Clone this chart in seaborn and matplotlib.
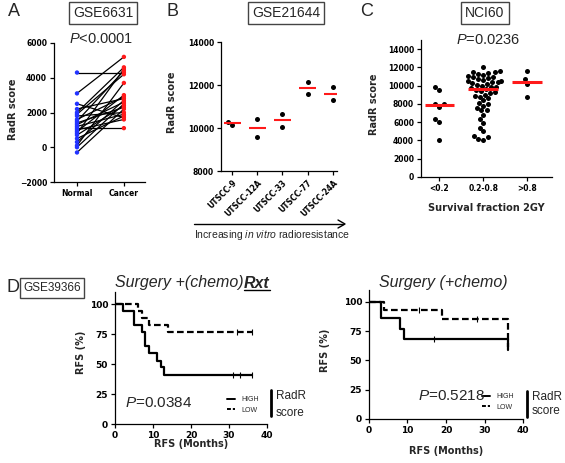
import numpy as np
import pandas as pd
import matplotlib
matplotlib.use("Agg")
import matplotlib.pyplot as plt
from matplotlib.lines import Line2D
import seaborn as sns

# ---------------------------------------------------------------
# data
# ---------------------------------------------------------------
# A: GSE6631, paired normal / cancer
A_GROUPS = ["Normal", "Cancer"]
A_NORMAL = [4300, 3100, 2500, 2200, 2000, 1800, 1600, 1500, 1400, 1300, 1200,
            1100, 900, 800, 700, 500, 300, 100, 0, -300, 1900, 1000]
A_CANCER = [4300, 5200, 1700, 2800, 4600, 2000, 2900, 4400, 2300, 2600, 1900,
            1100, 3000, 4500, 2400, 1800, 2700, 3700, 2500, 2200, 4200, 1600]

# B: GSE21644, two replicates per cell line
B_CELLS = ["UTSCC-9", "UTSCC-12A", "UTSCC-33", "UTSCC-77", "UTSCC-24A"]
B_REP1 = [10150, 10400, 10650, 12150, 11900]
B_REP2 = [10300, 9600, 10050, 11600, 11300]

# C: NCI60, survival fraction groups
C_GROUPS = ["<0.2", "0.2-0.8", ">0.8"]
C_LOW = [9800, 9500, 8000, 7700, 8000, 6300, 6000, 4100]
C_MID = [12000, 11600, 11500, 11500, 11400, 11300, 11200, 11100, 11000, 10900,
         10800, 10700, 10600, 10500, 10500, 10400, 10400, 10300, 10200, 10100,
         10000, 9900, 9800, 9700, 9600, 9500, 9400, 9300, 9200, 9000, 8900,
         8800, 8600, 8400, 8100, 8000, 7800, 7600, 7300, 7300, 6800, 6300,
         5900, 5400, 5000, 4500, 4400, 4200, 4100]
C_HIGH = [11600, 10700, 10200, 8800]

# D: GSE39366 Kaplan-Meier (months, RFS %)
D1_HIGH_T = [0, 2, 5, 7, 8, 9, 11, 12, 13, 36]
D1_HIGH_S = [100, 94.1, 82.4, 76.5, 64.7, 58.8, 52.9, 47.1, 41.2, 41.2]
D1_LOW_T = [0, 6, 7, 9, 14, 36]
D1_LOW_S = [100, 94.1, 88.2, 82.4, 76.5, 76.5]
D1_HIGH_CENS_T = [31, 33, 36]
D1_HIGH_CENS_S = [41.2, 41.2, 41.2]
D1_LOW_CENS_T = [32, 36]
D1_LOW_CENS_S = [76.5, 76.5]

D2_HIGH_T = [0, 3, 8, 9, 36, 36]
D2_HIGH_S = [100, 85.7, 77.0, 68.5, 68.5, 59.0]
D2_LOW_T = [0, 4, 19, 36, 36]
D2_LOW_S = [100, 92.9, 85.2, 85.2, 61.0]
D2_HIGH_CENS_T = [17]
D2_HIGH_CENS_S = [68.5]
D2_LOW_CENS_T = [13, 28]
D2_LOW_CENS_S = [92.9, 85.2]

# ---------------------------------------------------------------
sns.set_style("ticks")
plt.rcParams["font.family"] = ["Liberation Sans", "DejaVu Sans"]
plt.rcParams["mathtext.fontset"] = "custom"
plt.rcParams["mathtext.rm"] = "Liberation Sans"
plt.rcParams["mathtext.it"] = "Liberation Sans:italic"
plt.rcParams["mathtext.bf"] = "Liberation Sans:bold"

W, H = 565, 463
fig = plt.figure(figsize=(W / 100, H / 100), dpi=100)

LABEL_FONT = dict(fontsize=7, fontweight="bold", family="DejaVu Sans")


def px_axes(l, t, r, b):
    return fig.add_axes([l / W, 1 - b / H, (r - l) / W, (b - t) / H])


def fx(x):
    return x / W


def fy(y):
    return 1 - y / H


def style_ax(ax, labelsize=5.5):
    sns.despine(ax=ax)
    for s in ["left", "bottom"]:
        ax.spines[s].set_linewidth(0.9)
        ax.spines[s].set_color("black")
    ax.tick_params(direction="out", length=3, width=0.9, labelsize=labelsize,
                   colors="black", pad=2)
    for lbl in ax.get_xticklabels() + ax.get_yticklabels():
        lbl.set_fontweight("bold")
        lbl.set_family("DejaVu Sans")
    ax.set_facecolor("none")


def box_label(x, y, s, size=10):
    fig.text(fx(x), fy(y), s, ha="center", va="center", fontsize=size,
             bbox=dict(boxstyle="square,pad=0.3", fc="white", ec="#444444", lw=1))


def median_lines(ax, df, x, y, order, width, lw):
    # only the median bar is kept, drawn over the points
    sns.boxplot(data=df, x=x, y=y, order=order, ax=ax, width=width,
                showbox=False, showcaps=False, showfliers=False,
                whiskerprops={"visible": False},
                medianprops={"color": "#ff1a1a", "lw": lw}, zorder=4)


# ---------------- Panel A ----------------
axA = px_axes(54, 43, 145, 182)
n = len(A_NORMAL)
dfA = pd.DataFrame({
    "pair": list(range(n)) * 2,
    "pos": [0] * n + [1] * n,
    "group": [A_GROUPS[0]] * n + [A_GROUPS[1]] * n,
    "value": A_NORMAL + A_CANCER,
})
sns.lineplot(data=dfA, x="pos", y="value", units="pair", estimator=None,
             color="black", lw=0.9, ax=axA, zorder=2)
sns.scatterplot(data=dfA, x="pos", y="value", hue="group",
                palette={"Normal": "#2233ff", "Cancer": "#ff1a1a"},
                s=10, edgecolor="none", legend=False, ax=axA, zorder=3)
axA.set_xlim(-0.49, 1.45)
axA.set_ylim(-2000, 6000)
axA.set_xticks([0, 1])
axA.set_xticklabels(A_GROUPS)
axA.set_yticks([-2000, 0, 2000, 4000, 6000])
axA.set_xlabel("")
axA.set_ylabel("RadR score", **LABEL_FONT)
style_ax(axA)
axA.yaxis.set_label_coords(-0.40, 0.52)

# ---------------- Panel B ----------------
axB = px_axes(221, 42, 337, 171)
dfB = pd.DataFrame({
    "cell": B_CELLS * 2,
    "value": B_REP1 + B_REP2,
})
sns.swarmplot(data=dfB, x="cell", y="value", order=B_CELLS, color="black",
              size=3.6, ax=axB, zorder=3)
median_lines(axB, dfB, "cell", "value", B_CELLS, 0.68, 1.5)
axB.set_xlim(-0.44, 4.17)
axB.set_ylim(8000, 14000)
axB.set_yticks([8000, 10000, 12000, 14000])
axB.set_xlabel("")
axB.set_ylabel("RadR score", **LABEL_FONT)
style_ax(axB, labelsize=5.5)
for lbl in axB.get_xticklabels():
    lbl.set_rotation(45)
    lbl.set_ha("right")
    lbl.set_rotation_mode("anchor")
axB.yaxis.set_label_coords(-0.38, 0.53)

# ---------------- Panel C ----------------
axC = px_axes(421, 40, 552, 177)
dfC = pd.DataFrame({
    "grp": [C_GROUPS[0]] * len(C_LOW) + [C_GROUPS[1]] * len(C_MID)
           + [C_GROUPS[2]] * len(C_HIGH),
    "value": C_LOW + C_MID + C_HIGH,
})
sns.swarmplot(data=dfC, x="grp", y="value", order=C_GROUPS, color="black",
              size=3.6, ax=axC, zorder=3)
median_lines(axC, dfC, "grp", "value", C_GROUPS, 0.68, 2.2)
axC.set_xlim(-0.42, 2.56)
axC.set_ylim(0, 15000)
axC.set_yticks(np.arange(0, 14001, 2000))
axC.set_xlabel("Survival fraction 2GY", **LABEL_FONT)
axC.set_ylabel("RadR score", **LABEL_FONT)
style_ax(axC)
axC.yaxis.set_label_coords(-0.32, 0.53)
axC.xaxis.set_label_coords(0.5, -0.19)

# ---------------- Panel D ----------------
def km_panel(ax, ht, hs, lt, ls, hct, hcs, lct, lcs):
    sns.lineplot(x=ht, y=hs, drawstyle="steps-post", color="black", lw=1.6,
                 estimator=None, sort=False, ax=ax)
    sns.lineplot(x=lt, y=ls, drawstyle="steps-post", color="black", lw=1.6,
                 estimator=None, sort=False, ax=ax, linestyle=(0, (3, 1.5)))
    sns.scatterplot(x=hct, y=hcs, marker="|", s=14, color="black",
                    linewidth=0.8, ax=ax)
    sns.scatterplot(x=lct, y=lcs, marker="|", s=14, color="black",
                    linewidth=0.8, ax=ax)
    ax.set_xlim(0, 40)
    ax.set_ylim(0, 110)
    ax.set_xticks([0, 10, 20, 30, 40])
    ax.set_yticks([0, 25, 50, 75, 100])
    ax.set_xlabel("RFS (Months)", **LABEL_FONT)
    ax.set_ylabel("RFS (%)", **LABEL_FONT)
    style_ax(ax, labelsize=6.5)


axD1 = px_axes(115, 292, 267, 424)
km_panel(axD1, D1_HIGH_T, D1_HIGH_S, D1_LOW_T, D1_LOW_S,
         D1_HIGH_CENS_T, D1_HIGH_CENS_S, D1_LOW_CENS_T, D1_LOW_CENS_S)
axD1.yaxis.set_label_coords(-0.19, 0.54)
axD1.xaxis.set_label_coords(0.5, -0.11)

axD2 = px_axes(369, 290, 523, 419)
km_panel(axD2, D2_HIGH_T, D2_HIGH_S, D2_LOW_T, D2_LOW_S,
         D2_HIGH_CENS_T, D2_HIGH_CENS_S, D2_LOW_CENS_T, D2_LOW_CENS_S)
axD2.yaxis.set_label_coords(-0.25, 0.53)
axD2.xaxis.set_label_coords(0.5, -0.21)

handles = [Line2D([], [], color="black", lw=1.4),
           Line2D([], [], color="black", lw=1.4, linestyle=(0, (2, 1)))]
for ax, lx, ly, bx, y0, y1, ty0, ty1 in [
        (axD1, 227, 405, 271, 390, 416, 396, 413),
        (axD2, 482, 402, 527, 391, 417, 397, 411)]:
    leg = ax.legend(handles, ["HIGH", "LOW"], loc="center left",
                    bbox_to_anchor=(fx(lx), fy(ly)),
                    bbox_transform=fig.transFigure, frameon=False,
                    prop={"size": 5}, handlelength=1.2, handletextpad=0.8,
                    labelspacing=0.45, borderpad=0, borderaxespad=0)
    fig.add_artist(Line2D([fx(bx), fx(bx)], [fy(y0), fy(y1)], color="black",
                          lw=2))
    fig.text(fx(bx + 5), fy(ty0), "RadR", fontsize=8.5, va="center")
    fig.text(fx(bx + 5), fy(ty1), "score", fontsize=8.5, va="center")

# ---------------- annotations ----------------
for s, x, y in [("A", 8, 12), ("B", 166, 12), ("C", 360, 12), ("D", 6, 288)]:
    fig.text(fx(x), fy(y), s, fontsize=13, ha="left", va="center")

box_label(103, 13, "GSE6631")
box_label(286, 13, "GSE21644")
box_label(485, 13, "NCI60")
box_label(52, 288, "GSE39366", size=8.5)

fig.text(fx(101), fy(39), r"$\it{P}$<0.0001", fontsize=10.5, ha="center",
         va="center")
fig.text(fx(488), fy(40), r"$\it{P}$=0.0236", fontsize=10.5, ha="center",
         va="center")
fig.text(fx(159), fy(403), r"$\it{P}$=0.0384", fontsize=11, ha="center",
         va="center")
fig.text(fx(452), fy(396), r"$\it{P}$=0.5218", fontsize=11, ha="center",
         va="center")

fig.add_artist(plt.Line2D([fx(194), fx(343)], [fy(224), fy(224)],
                          color="black", lw=1))
fig.add_artist(plt.Line2D([fx(338), fx(345), fx(338)],
                          [fy(220), fy(224), fy(228)], color="black", lw=1))
fig.text(fx(272), fy(235), r"Increasing $\it{in\ vitro}$ radioresistance",
         fontsize=7.5, ha="center", va="center")

t1 = fig.text(fx(244), fy(283), "Surgery +(chemo)", fontsize=11.5,
              style="italic", ha="right", va="center")
t2 = fig.text(fx(244), fy(283), "Rxt", fontsize=11.5, style="italic",
              fontweight="bold", ha="left", va="center")
fig.text(fx(443), fy(282), "Surgery (+chemo)", fontsize=11.5, style="italic",
         ha="center", va="center")

fig.canvas.draw()
bb = t2.get_window_extent().transformed(fig.transFigure.inverted())
fig.add_artist(Line2D([bb.x0, bb.x1], [bb.y0 + 0.002, bb.y0 + 0.002],
                      color="black", lw=1))

fig.savefig("out.png", dpi=100)
